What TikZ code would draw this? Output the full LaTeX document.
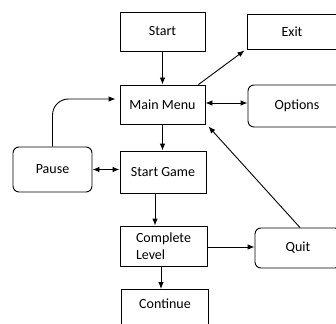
\documentclass[tikz,border=0pt]{standalone}
\usepackage{fontspec}
\setmainfont{Carlito}
\usetikzlibrary{arrows.meta,calc}
\begin{document}
\begin{tikzpicture}[x=1pt,y=-1pt,
  box/.style={draw, line width=0.9pt, inner sep=0pt, font=\fontsize{14}{17}\selectfont},
  rbox/.style={box, rounded corners=6pt},
  arr/.style={line width=0.9pt, -{Latex[length=7pt,width=5.5pt]}},
  dbl/.style={line width=0.9pt, {Latex[length=7pt,width=5.5pt]}-{Latex[length=7pt,width=5.5pt]}}]
\useasboundingbox (0,0) rectangle (336,323);
\clip (0,0) rectangle (336,323);
\node[box, minimum width=85pt, minimum height=39pt] (start) at (162.5,31.5) {Start};
\node[box, minimum width=90pt, minimum height=35pt] (exit) at (292,31.5) {Exit};
\node[box, minimum width=85pt, minimum height=39pt] (menu) at (162.5,104.5) {Main Menu};
\node[rbox, minimum width=98pt, minimum height=42pt] (options) at (297,106) {Options};
\node[rbox, minimum width=79pt, minimum height=45pt] (pause) at (52.5,169.5) {Pause};
\node[box, minimum width=86pt, minimum height=42pt] (game) at (163,172) {Start Game};
\node[box, minimum width=87pt, minimum height=40pt, align=left] (level) at (163.5,246) {Complete\\Level};
\node[rbox, minimum width=86pt, minimum height=40pt] (quit) at (298,248) {Quit};
\node[box, minimum width=87pt, minimum height=45pt, anchor=north] (cont) at (164.5,289) {};
\node[font=\fontsize{14}{17}\selectfont, inner sep=0pt] (conttext) at (165,304) {Continue};
\draw[arr] (start.south -| menu.north) -- (menu.north);
\draw[arr] ($(menu.north east)+(-7,0)$) -- ($(exit.south west)+(-2,1)$);
\draw[dbl] ($(menu.east)+(0,-1.5)$) coordinate (m1) -- (m1 -| options.west);
\draw[arr] (menu) -- (menu |- game.north);
\draw[arr, rounded corners=16pt] (pause.north) |- ($(menu.west)+(-4,-5.5)$);
\draw[dbl] (pause.east) -- (pause.east -| game.west);
\draw[arr] ($(game.south)+(-8,0)$) coordinate (g1) -- (g1 |- level.north);
\draw[arr] ($(level.south)+(-2.5,0)$) coordinate (l1) -- (l1 |- cont.north);
\draw[arr] ($(level.east)+(0,1)$) coordinate (l2) -- (l2 -| quit.west);
\draw[arr] ($(quit.north)+(2,0)$) -- ($(menu.south east)+(3,2)$);
\end{tikzpicture}
\end{document}
